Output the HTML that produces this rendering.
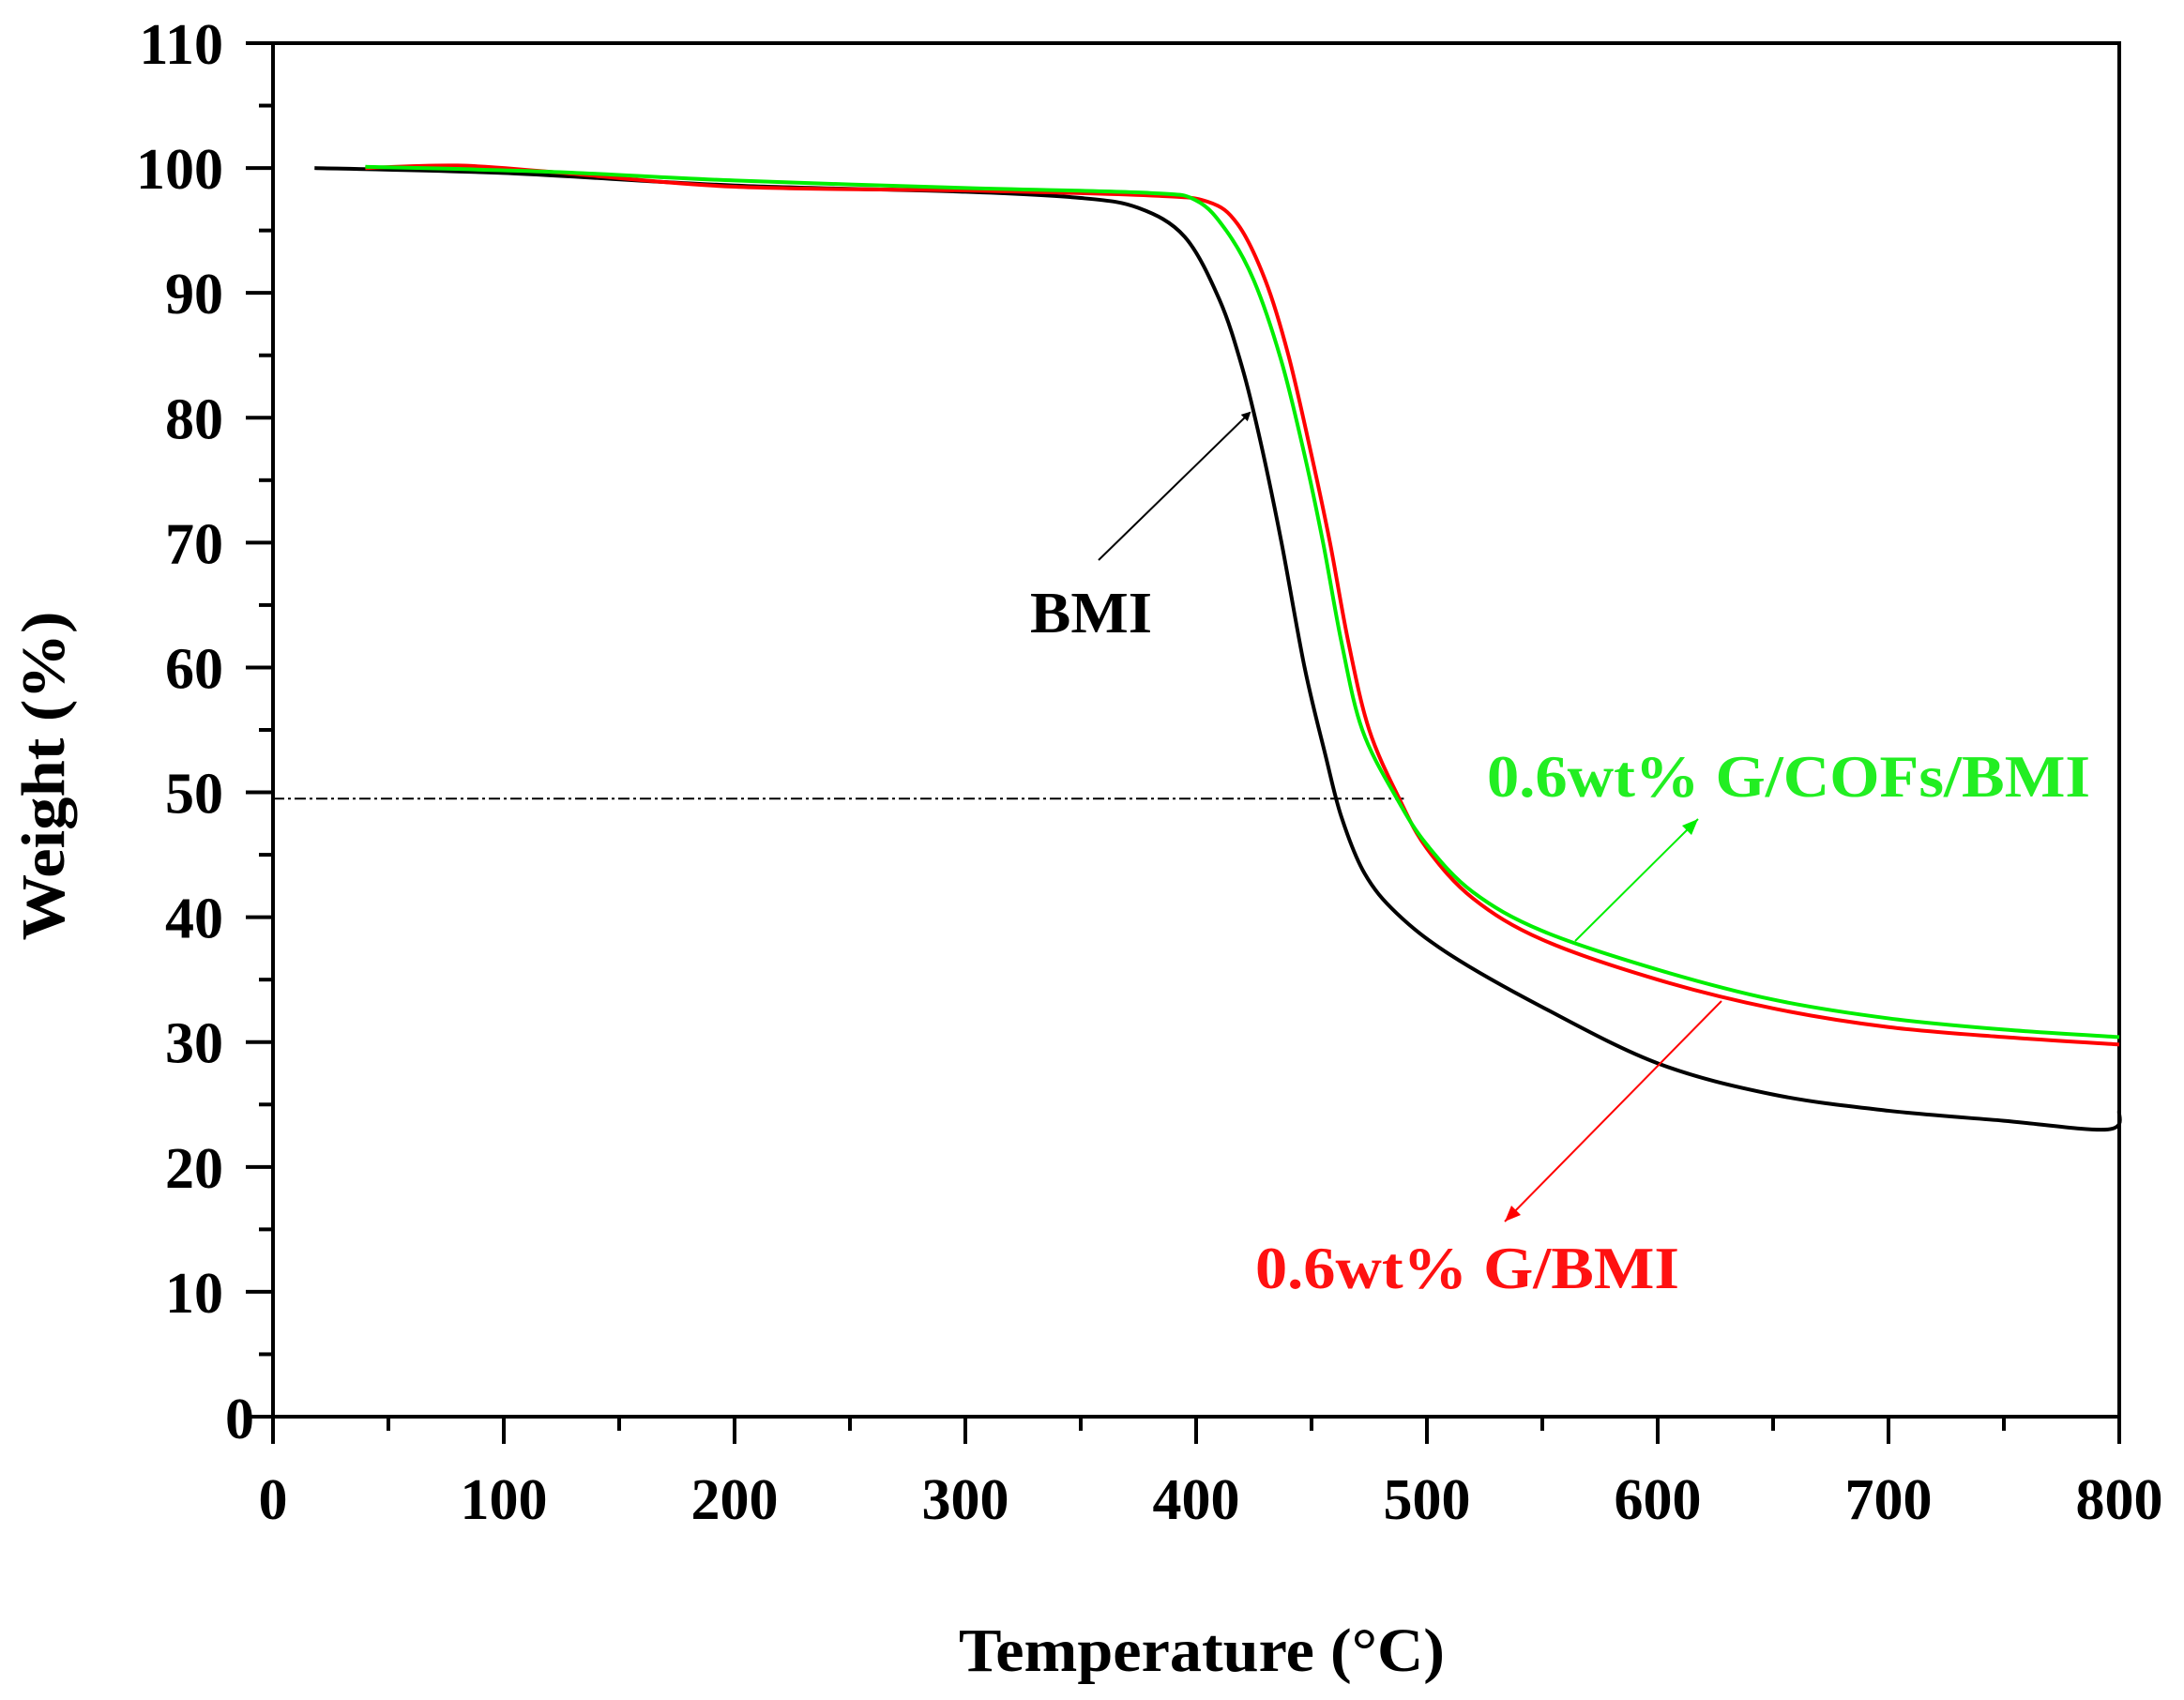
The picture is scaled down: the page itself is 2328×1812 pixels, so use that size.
<!DOCTYPE html>
<html><head><meta charset="utf-8"><style>
html,body{margin:0;padding:0;background:#fff;}
svg{display:block;}
text{font-family:"Liberation Serif",serif;font-weight:bold;}
</style></head><body>
<svg id="s" width="2328" height="1812" viewBox="0 0 2328 1812" xmlns="http://www.w3.org/2000/svg">
<defs>
<marker id="ak" markerWidth="10" markerHeight="10" refX="8" refY="5" orient="auto" markerUnits="userSpaceOnUse"><path d="M0,0 L10,5 L0,10 z" fill="#000"/></marker>
</defs>
<g id="g"></g>
<text x="271" y="1533" font-size="62" text-anchor="end">0</text>
<text x="1098" y="674" font-size="62" textLength="130" lengthAdjust="spacingAndGlyphs">BMI</text>
<text x="1585" y="849" font-size="64" fill="#22ee22" textLength="643" lengthAdjust="spacingAndGlyphs">0.6wt% G/COFs/BMI</text>
<text x="1338" y="1373" font-size="64" fill="#ff1111" textLength="452" lengthAdjust="spacingAndGlyphs">0.6wt% G/BMI</text>
<text x="1022" y="1781" font-size="66" textLength="518" lengthAdjust="spacingAndGlyphs">Temperature (°C)</text>
<text transform="translate(68,827) rotate(-90)" font-size="66" text-anchor="middle" textLength="351" lengthAdjust="spacingAndGlyphs">Weight (%)</text>
</svg>
<script>
var L=291,R=2259,T=46,B=1510;
function X(v){return L+(R-L)*v/800;}
function Y(v){return B-(B-T)*v/110;}
var g=document.getElementById('g'),h='';
for(var i=0;i<=110;i+=5){var y=Y(i),maj=i%10==0;h+='<line x1="'+(maj?262:276)+'" y1="'+y+'" x2="'+L+'" y2="'+y+'" stroke="#000" stroke-width="4"/>';
if(maj&&i>0)h+='<text x="238" y="'+(y+22)+'" font-size="62" text-anchor="end">'+i+'</text>';}
for(var i=0;i<=800;i+=50){var x=X(i),maj=i%100==0;h+='<line x1="'+x+'" y1="'+B+'" x2="'+x+'" y2="'+(maj?1539:1525)+'" stroke="#000" stroke-width="4"/>';
if(maj)h+='<text x="'+x+'" y="'+1619+'" font-size="62" text-anchor="middle">'+i+'</text>';}
h+='<rect x="'+L+'" y="'+T+'" width="'+(R-L)+'" height="'+(B-T)+'" fill="none" stroke="#000" stroke-width="4"/>';
h+='<line x1="'+X(0)+'" y1="'+Y(49.5)+'" x2="'+X(490)+'" y2="'+Y(49.5)+'" stroke="#000" stroke-width="2" stroke-dasharray="12,4,3,4"/>';
function path(pts,c){var p=pts.map(function(a){return[X(a[0]),Y(a[1])]});var d='M'+p[0][0]+','+p[0][1];
for(var i=0;i<p.length-1;i++){var p0=p[i-1]||p[i],p1=p[i],p2=p[i+1],p3=p[i+2]||p2;
var c1=[p1[0]+(p2[0]-p0[0])/6,p1[1]+(p2[1]-p0[1])/6],c2=[p2[0]-(p3[0]-p1[0])/6,p2[1]-(p3[1]-p1[1])/6];
d+=' C'+c1+' '+c2+' '+p2;}
return '<path d="'+d+'" fill="none" stroke="'+c+'" stroke-width="4"/>';}
var bmi=[[18,100],[100,99.6],[200,98.6],[300,98.1],[350,97.6],[375,96.8],[395,94.5],[410,89.5],[420,84],[428,78],[437,70],[447,60],[456,53],[463,48],[473,43.5],[487,40.3],[510,37],[550,32.8],[600,28.3],[650,25.8],[700,24.5],[750,23.7],[795,23],[800,24.5]];
var red=[[40,100],[80,100.2],[120,99.7],[200,98.5],[300,98.2],[380,97.8],[405,97.3],[418,95.5],[430,91],[440,85],[450,77],[458,70],[466,62],[475,55],[488,49.5],[500,45.5],[520,41.5],[550,38.2],[600,35],[650,32.7],[700,31.2],[750,30.4],[800,29.8]];
var grn=[[40,100.1],[120,99.7],[200,99],[300,98.4],[380,98],[400,97.4],[413,95],[425,91],[437,84.5],[447,77],[455,70],[463,62],[472,55],[487,49.5],[500,45.8],[520,42],[550,38.9],[600,35.8],[650,33.4],[700,31.9],[750,31],[800,30.4]];
h+=path(bmi,'#000')+path(red,'#ff0000')+path(grn,'#00ee00');
h+='<line x1="1171" y1="597" x2="1332" y2="440" stroke="#000" stroke-width="2" marker-end="url(#ak)"/>';
h+='<line x1="1679" y1="1003" x2="1810" y2="873" stroke="#00ee00" stroke-width="2"/><path d="M1810,873 L1793,880 L1803,890 z" fill="#00ee00"/>';
h+='<line x1="1835" y1="1067" x2="1604" y2="1302" stroke="#ff0000" stroke-width="2"/><path d="M1604,1302 L1611,1285 L1621,1295 z" fill="#ff0000"/>';
g.innerHTML=h;
</script>
</body></html>
